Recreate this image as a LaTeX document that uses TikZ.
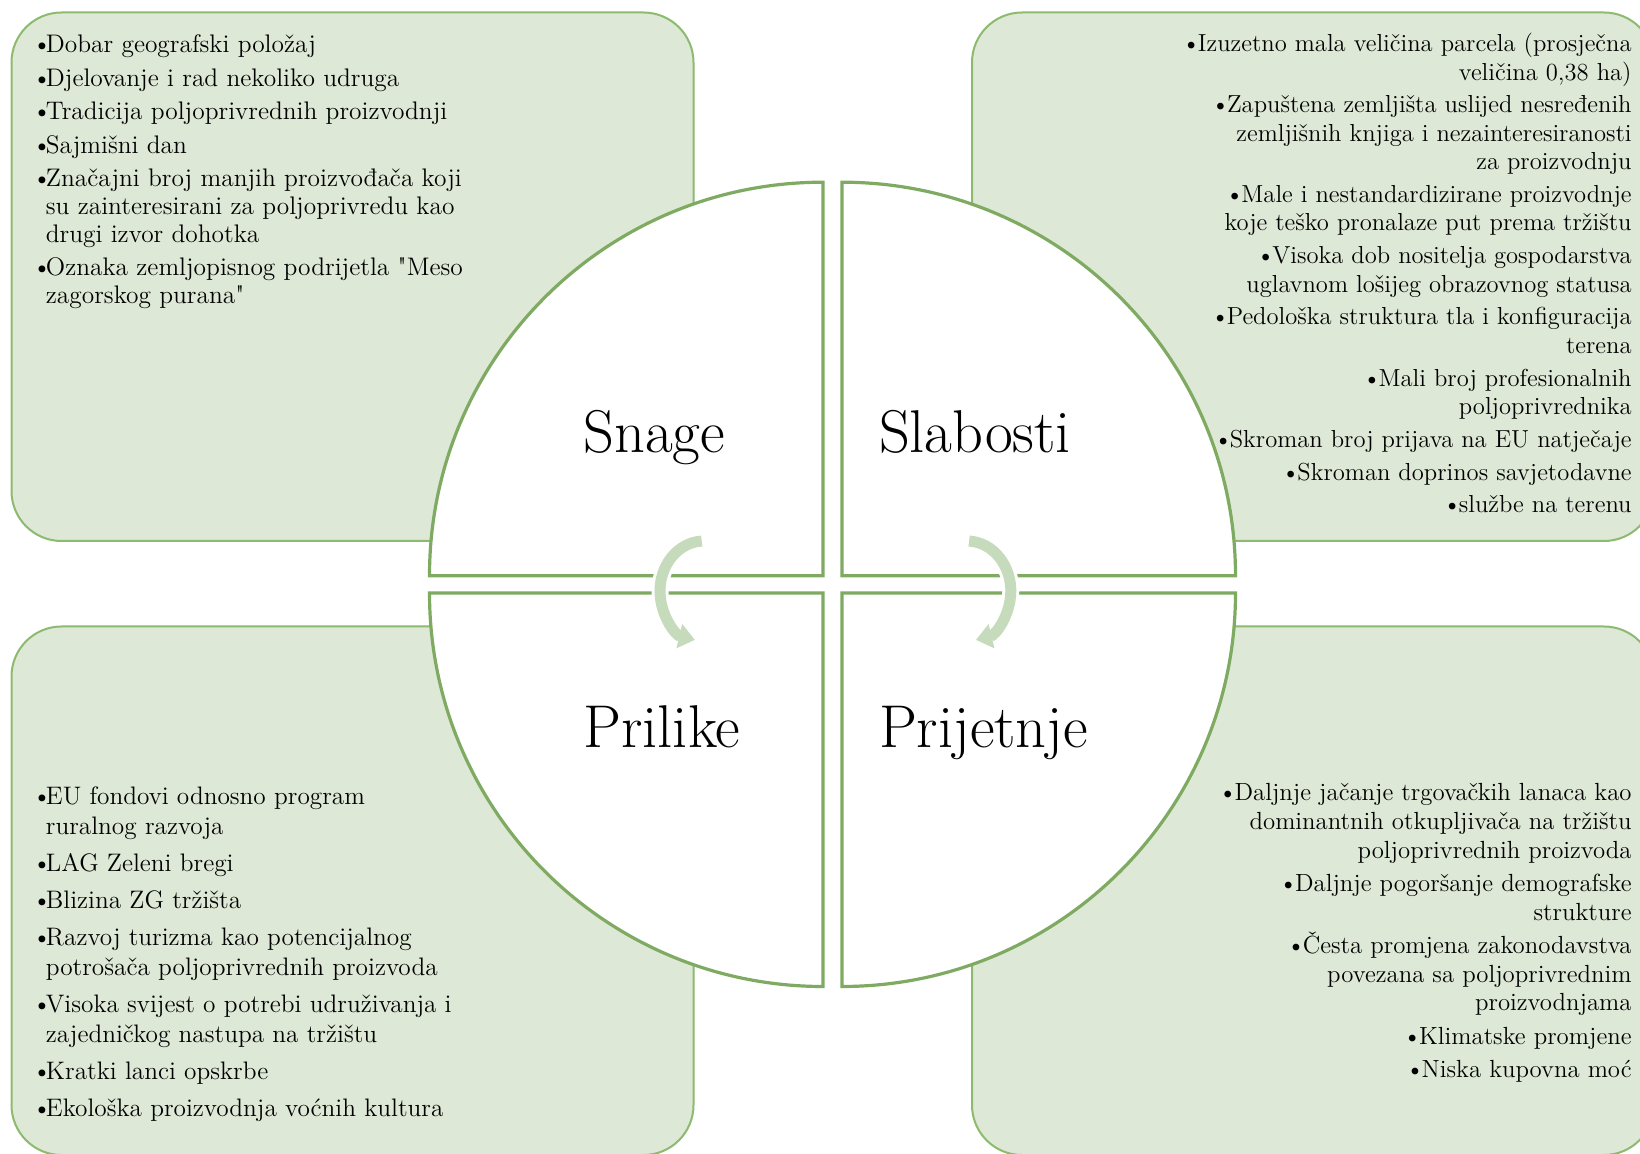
\documentclass[tikz,border=0pt]{standalone}
\usepackage{fontspec}
\newfontfamily\nomapfont{Latin Modern Roman}[Ligatures=TeXOff]
\usetikzlibrary{arrows.meta}
\definecolor{boxfill}{HTML}{DEE8D6}
\definecolor{boxline}{HTML}{8CBA6E}
\definecolor{secline}{HTML}{7FAA62}
\definecolor{arrowc}{HTML}{C5DBBB}
\newlength\bwid
\setlength\bwid{6.75pt}
\newcommand\B{\makebox[\bwid][l]{\textbullet}}
\newcommand\I{\hspace*{\bwid}}
\newcommand\R{\textbullet\kern-1.4pt}
\newcommand\Q{{\nomapfont"}}
\tikzset{
  outerbox/.style={fill=boxfill, draw=boxline, line width=1pt, rounded corners=25pt},
  sector/.style={fill=white, draw=secline, line width=1.6pt},
  cyclearrow/.style={arrowc, line width=5.5pt, -{Triangle[length=8pt,width=12pt]}},
  arrowgap/.style={white, line width=8.5pt},
  biglabel/.style={anchor=base west, inner sep=0pt, font=\fontsize{30.2}{36}\selectfont},
  txt/.style={inner sep=0pt}
}
\begin{document}
\begin{tikzpicture}[x=0.5pt,y=0.5pt]
\useasboundingbox (0,0) rectangle (1640,-1154);
\clip (0,0) rectangle (1640,-1154);
% outer boxes
\draw[outerbox] (11.5,-12.5) rectangle (693.5,-541);
\draw[outerbox] (972,-12.5) rectangle (1654,-541);
\draw[outerbox] (11.5,-626.5) rectangle (693.5,-1155);
\draw[outerbox] (972,-626.5) rectangle (1654,-1155);
% sectors
\draw[sector] (823,-575.7) -- (823,-182.2) arc[start angle=90,end angle=180,radius=196.75pt] -- cycle;
\draw[sector] (842,-575.7) -- (1235.5,-575.7) arc[start angle=0,end angle=90,radius=196.75pt] -- cycle;
\draw[sector] (823,-593) -- (429.5,-593) arc[start angle=180,end angle=270,radius=196.75pt] -- cycle;
\draw[sector] (842,-593) -- (842,-986.5) arc[start angle=270,end angle=360,radius=196.75pt] -- cycle;
% arrows
\coordinate (lac) at (704,-591);
\coordinate (rac) at (966.8,-591);
\draw[arrowgap] (lac) ++(150:22pt and 25pt) arc[start angle=150,end angle=195,x radius=22pt,y radius=25pt];
\draw[arrowgap] (rac) ++(30:22pt and 25pt) arc[start angle=30,end angle=-15,x radius=22pt,y radius=25pt];
\draw[cyclearrow] (lac) ++(93:22pt and 25pt) arc[start angle=93,end angle=258,x radius=22pt,y radius=25pt];
\draw[cyclearrow] (rac) ++(87:22pt and 25pt) arc[start angle=87,end angle=-78,x radius=22pt,y radius=25pt];
% labels
\node[biglabel] (snage) at (583,-452.7) {Snage};
\node[biglabel] (slabosti) at (878.6,-452.7) {Slabosti};
\node[biglabel] (prilike) at (583,-748) {Prilike};
\node[biglabel] (prijetnje) at (878.6,-748) {Prijetnje};
% texts
\node[txt, anchor=base west] (snagetxt) at (32,-53) {\begin{minipage}[t]{300pt}\fontsize{12.7}{13.85}\selectfont\raggedright
\B Dobar geografski položaj\\[2.9pt]
\B Djelovanje i rad nekoliko udruga\\[2.9pt]
\B Tradicija poljoprivrednih proizvodnji\\[2.9pt]
\B Sajmišni dan\\[2.9pt]
\B Značajni broj manjih proizvođača koji\\
\I su zainteresirani za poljoprivredu kao\\
\I drugi izvor dohotka\\[2.9pt]
\B Oznaka zemljopisnog podrijetla \Q Meso\\
\I zagorskog purana\Q
\end{minipage}};
\node[txt, anchor=base east] (slabostitxt) at (1632,-51.8) {\begin{minipage}[t]{300pt}\fontsize{12.3}{14.2}\selectfont\raggedleft
\R Izuzetno mala veličina parcela (prosječna\\
veličina 0,38 ha)\\[2.2pt]
\R Zapuštena zemljišta uslijed nesređenih\\
zemljišnih knjiga i nezainteresiranosti\\
za proizvodnju\\[2.2pt]
\R Male i nestandardizirane proizvodnje\\
koje teško pronalaze put prema tržištu\\[2.2pt]
\R Visoka dob nositelja gospodarstva\\
uglavnom lošijeg obrazovnog statusa\\[2.2pt]
\R Pedološka struktura tla i konfiguracija\\
terena\\[2.2pt]
\R Mali broj profesionalnih\\
poljoprivrednika\\[2.2pt]
\R Skroman broj prijava na EU natječaje\\[2.2pt]
\R Skroman doprinos savjetodavne\\[2.2pt]
\R službe na terenu
\end{minipage}};
\node[txt, anchor=base west] (priliketxt) at (32,-805) {\begin{minipage}[t]{300pt}\fontsize{12.65}{15}\selectfont\raggedright
\B EU fondovi odnosno program\\
\I ruralnog razvoja\\[3.5pt]
\B LAG Zeleni bregi\\[3.5pt]
\B Blizina ZG tržišta\\[3.5pt]
\B Razvoj turizma kao potencijalnog\\
\I potrošača poljoprivrednih proizvoda\\[3.5pt]
\B Visoka svijest o potrebi udruživanja i\\
\I zajedničkog nastupa na tržištu\\[3.5pt]
\B Kratki lanci opskrbe\\[3.5pt]
\B Ekološka proizvodnja voćnih kultura
\end{minipage}};
\node[txt, anchor=base east] (prijetnjetxt) at (1632,-801) {\begin{minipage}[t]{300pt}\fontsize{12.4}{14.3}\selectfont\raggedleft
\R Daljnje jačanje trgovačkih lanaca kao\\
dominantnih otkupljivača na tržištu\\
poljoprivrednih proizvoda\\[2.4pt]
\R Daljnje pogoršanje demografske\\
strukture\\[2.4pt]
\R Česta promjena zakonodavstva\\
povezana sa poljoprivrednim\\
proizvodnjama\\[2.4pt]
\R Klimatske promjene\\[2.4pt]
\R Niska kupovna moć
\end{minipage}};
\end{tikzpicture}
\end{document}
